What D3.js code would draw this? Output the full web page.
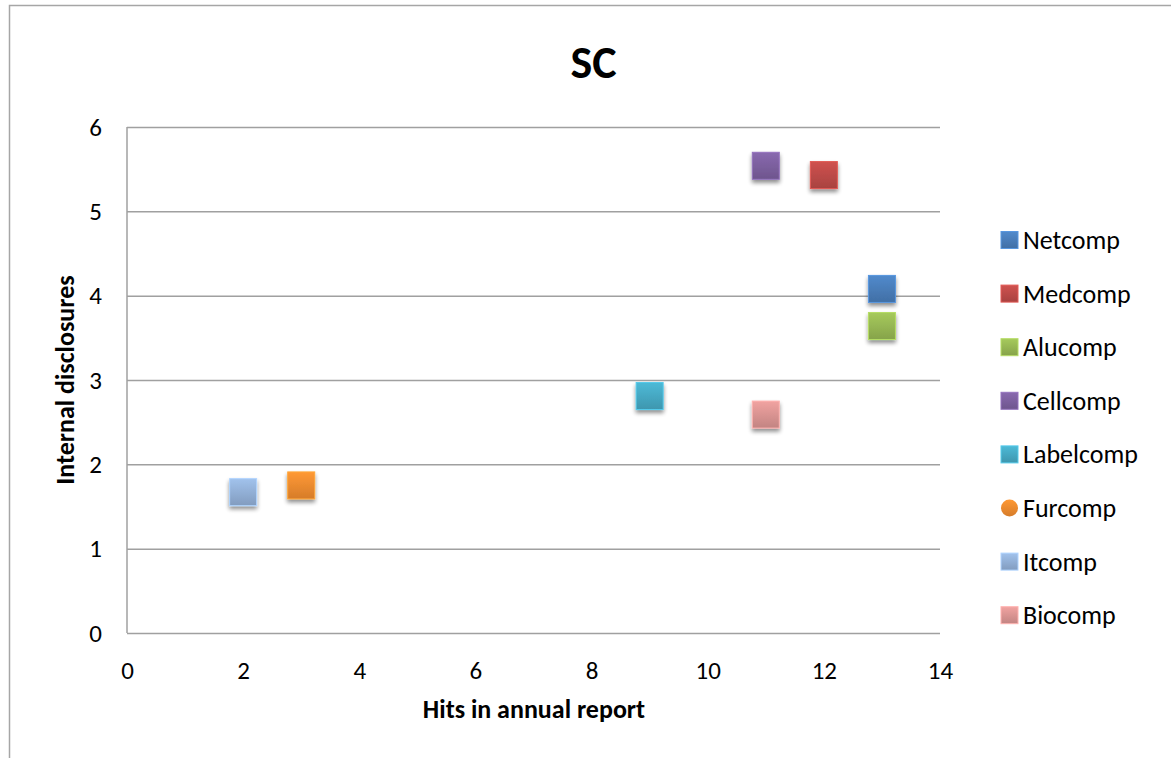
<!DOCTYPE html>
<html>
<head>
<meta charset="utf-8">
<script src="https://cdn.jsdelivr.net/npm/d3@7"></script>
<style>
  html, body { margin: 0; padding: 0; background: #fff; }
  svg { display: block; font-family: Calibri, Carlito, Lato, "Open Sans", sans-serif; }
</style>
</head>
<body>
<svg id="chart" width="1171" height="758"></svg>
<script>
// Company series: hits in annual report (x) vs internal disclosures (y)
const companies = ["Netcomp", "Medcomp", "Alucomp", "Cellcomp", "Labelcomp", "Furcomp", "Itcomp", "Biocomp"];
const hits = [13, 12, 13, 11, 9, 3, 2, 11];
const disclosures = [4.08, 5.43, 3.64, 5.54, 2.81, 1.75, 1.67, 2.59];
const colors = ["#4a7ebb", "#be4b48", "#98b954", "#7d60a0", "#46aac5", "#f28c30", "#93b1d8", "#dc9593"];
const legendShapes = ["square", "square", "square", "square", "square", "circle", "square", "square"];
const xTicks = [0, 2, 4, 6, 8, 10, 12, 14];
const yTicks = [0, 1, 2, 3, 4, 5, 6];

const FONT = "Calibri, Carlito, Lato, 'Open Sans', sans-serif";
const svg = d3.select("#chart");
const W = 1171, H = 758;
const plot = { left: 127, right: 940, top: 127, bottom: 633 };

// outer chart frame
svg.append("rect")
  .attr("x", 9.5).attr("y", 5.5)
  .attr("width", W + 10).attr("height", H + 10)
  .attr("fill", "#fff").attr("stroke", "#a6a6a6").attr("stroke-width", 1.5);

const x = d3.scaleLinear().domain([0, 14]).range([plot.left, plot.right]);
const y = d3.scaleLinear().domain([0, 6]).range([plot.bottom, plot.top]);

const defs = svg.append("defs");
const shadow = defs.append("filter").attr("id", "shadow")
  .attr("x", "-50%").attr("y", "-50%").attr("width", "200%").attr("height", "200%");
shadow.append("feGaussianBlur").attr("in", "SourceAlpha").attr("stdDeviation", 2.2).attr("result", "b");
shadow.append("feOffset").attr("in", "b").attr("dx", 0).attr("dy", 3).attr("result", "o");
shadow.append("feComponentTransfer").attr("in", "o").attr("result", "s")
  .append("feFuncA").attr("type", "linear").attr("slope", 0.45);
const merge = shadow.append("feMerge");
merge.append("feMergeNode").attr("in", "s");
merge.append("feMergeNode").attr("in", "SourceGraphic");

colors.forEach((c, i) => {
  const g = defs.append("linearGradient").attr("id", "grad" + i)
    .attr("x1", 0).attr("y1", 0).attr("x2", 0).attr("y2", 1);
  g.append("stop").attr("offset", "0%").attr("stop-color", d3.color(c).brighter(0.25));
  g.append("stop").attr("offset", "100%").attr("stop-color", d3.color(c).darker(0.35));
});

// gridlines
const grid = d3.axisLeft(y).tickValues(yTicks).tickSize(-(plot.right - plot.left)).tickFormat("");
svg.append("g").attr("transform", `translate(${plot.left},0)`).call(grid)
  .call(g => g.select(".domain").remove())
  .call(g => g.selectAll("line").attr("stroke", "#a0a0a0").attr("stroke-width", 1.5));

// vertical axis line
svg.append("line").attr("x1", plot.left).attr("x2", plot.left)
  .attr("y1", plot.top).attr("y2", plot.bottom)
  .attr("stroke", "#a0a0a0").attr("stroke-width", 1.5);

// y tick labels
const yAxis = d3.axisLeft(y).tickValues(yTicks).tickSize(0).tickPadding(25).tickFormat(d3.format("d"));
svg.append("g").attr("transform", `translate(${plot.left},0)`).call(yAxis)
  .call(g => g.select(".domain").remove())
  .call(g => g.selectAll("text").attr("font-size", 25).attr("fill", "#000").attr("font-family", FONT));

// x tick labels
const xAxis = d3.axisBottom(x).tickValues(xTicks).tickSize(0).tickPadding(28).tickFormat(d3.format("d"));
svg.append("g").attr("transform", `translate(0,${plot.bottom})`).call(xAxis)
  .call(g => g.select(".domain").remove())
  .call(g => g.selectAll("text").attr("font-size", 25).attr("fill", "#000").attr("font-family", FONT));

// title
svg.append("text").attr("x", 593.5).attr("y", 78).attr("text-anchor", "middle")
  .attr("font-size", 46).attr("font-weight", "bold").text("SC");

// axis titles
svg.append("text").attr("x", 534).attr("y", 718).attr("text-anchor", "middle")
  .attr("font-size", 26).attr("font-weight", "bold").text("Hits in annual report");
svg.append("text").attr("transform", "translate(74,380) rotate(-90)").attr("text-anchor", "middle")
  .attr("font-size", 26).attr("font-weight", "bold").text("Internal disclosures");

// markers
const size = 27;
const pts = companies.map((name, i) => ({ name, x: hits[i], y: disclosures[i], i }));
svg.append("g").selectAll("rect").data(pts).join("rect")
  .attr("x", d => x(d.x) - size / 2).attr("y", d => y(d.y) - size / 2)
  .attr("width", size).attr("height", size)
  .attr("fill", d => `url(#grad${d.i})`)
  .attr("stroke", d => d3.color(colors[d.i]).brighter(0.5)).attr("stroke-width", 1)
  .attr("filter", "url(#shadow)");

// legend
const leg = svg.append("g");
const legY0 = 240, legStep = 53.6, ls = 17;
companies.forEach((name, i) => {
  const cy = legY0 + i * legStep;
  if (legendShapes[i] === "circle") {
    leg.append("circle").attr("cx", 1009.5).attr("cy", cy).attr("r", ls / 2)
      .attr("fill", `url(#grad${i})`);
  } else {
    leg.append("rect").attr("x", 1001).attr("y", cy - ls / 2).attr("width", ls).attr("height", ls)
      .attr("fill", `url(#grad${i})`)
      .attr("stroke", d3.color(colors[i]).brighter(0.5)).attr("stroke-width", 1);
  }
  leg.append("text").attr("x", 1023).attr("y", cy + 9).attr("font-size", 26).text(name);
});
</script>
</body>
</html>
